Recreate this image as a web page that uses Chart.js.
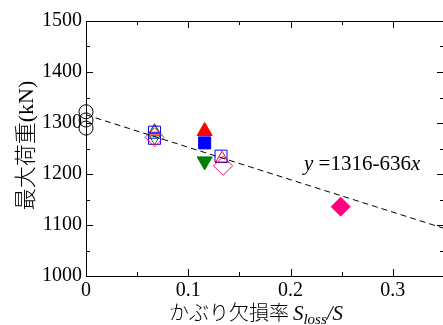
<!DOCTYPE html>
<html>
<head>
<meta charset="utf-8">
<script src="https://cdn.jsdelivr.net/npm/chart.js@4.4.0/dist/chart.umd.min.js"></script>
<style>
html,body{margin:0;padding:0;overflow:hidden;background:#fff;width:443px;height:325px;}
#wrap{width:446px;height:325px;}
</style>
</head>
<body>
<div id="wrap"><canvas id="c" width="446" height="325"></canvas></div>
<script>
// ---- data ----
const xTicks = [0, 0.1, 0.2, 0.3];
const xMinorTicks = [0.05, 0.15, 0.25, 0.35];
const yTicks = [1000, 1100, 1200, 1300, 1400, 1500];
const yMinorTicks = [1050, 1150, 1250, 1350, 1450];

const circleX = [0, 0, 0];
const circleY = [1322, 1306, 1290];

const openRedTriX = [0.067, 0.133];
const openRedTriY = [1284, 1230];
const openGreenTriX = [0.067];
const openGreenTriY = [1282];
const openBlueSqX = [0.067, 0.067, 0.132];
const openBlueSqY = [1282, 1270, 1235];
const openGreenDownX = [0.067];
const openGreenDownY = [1272];
const openPinkDiaX = [0.067, 0.134];
const openPinkDiaY = [1272, 1216];

const redTriX = [0.116];
const redTriY = [1284];
const blueSqX = [0.116];
const blueSqY = [1261];
const greenDownX = [0.116];
const greenDownY = [1225];
const pinkDiaX = [0.249];
const pinkDiaY = [1136];

const fitX = [0, 0.35];
const fitY = [1316, 1093.4];

const yTitle = '最大荷重(kN)';
const xTitleJa = 'かぶり欠損率';
const eqText = ['y', ' =1316-636', 'x'];

const RED = '#ff0000', BLUE = '#0000ff', GREEN = '#007f00', PINK = '#ff0080';

function pts(xs, ys){ return xs.map((x,i)=>({x:x, y:ys[i]})); }
function ds(xs, ys, style, color, filled, r, rot){
  return {
    type:'scatter', data: pts(xs, ys), pointStyle: style, pointRadius: r, pointHoverRadius: r,
    pointRotation: rot || 0, borderColor: color, backgroundColor: filled ? color : 'rgba(0,0,0,0)',
    pointBorderWidth: 1, borderWidth: 1, clip: false, showLine: false
  };
}

const SERIF = '"Liberation Serif", "Times New Roman", serif';
const CJK = '"Liberation Serif", "Noto Sans CJK JP", serif';

const framePlugin = {
  id: 'frame',
  afterDraw(chart){
    const ctx = chart.ctx, a = chart.chartArea;
    const xs = chart.scales.x, ys = chart.scales.y;
    ctx.save();
    ctx.strokeStyle = '#000'; ctx.lineWidth = 1;
    ctx.beginPath();
    ctx.moveTo(a.left, a.top + 0.5); ctx.lineTo(a.right, a.top + 0.5);
    ctx.moveTo(a.right - 0.5, a.top); ctx.lineTo(a.right - 0.5, a.bottom);
    const tick = (v, len, isX) => {
      if (isX){
        const p = Math.round(xs.getPixelForValue(v)) + 0.5;
        ctx.moveTo(p, a.bottom); ctx.lineTo(p, a.bottom - len);
        ctx.moveTo(p, a.top); ctx.lineTo(p, a.top + len);
      } else {
        const p = Math.round(ys.getPixelForValue(v)) + 0.5;
        ctx.moveTo(a.left, p); ctx.lineTo(a.left + len, p);
        ctx.moveTo(a.right, p); ctx.lineTo(a.right - len, p);
      }
    };
    xTicks.forEach(v => tick(v, 7, true));
    xMinorTicks.forEach(v => tick(v, 4, true));
    yTicks.forEach(v => tick(v, 7, false));
    yMinorTicks.forEach(v => tick(v, 4, false));
    ctx.stroke();

    ctx.fillStyle = '#000';
    // y title
    ctx.save();
    ctx.translate(27, (a.top + a.bottom) / 2 - 3);
    ctx.rotate(-Math.PI / 2);
    ctx.font = '300 22px ' + CJK;
    ctx.textAlign = 'center'; ctx.textBaseline = 'middle';
    ctx.fillText(yTitle, 0, 0);
    ctx.restore();

    // x title
    ctx.textBaseline = 'alphabetic'; ctx.textAlign = 'left';
    const f1 = '300 20px ' + CJK, fS = 'italic 21px ' + SERIF, fSub = 'italic 15px ' + SERIF;
    ctx.font = f1; const w1 = ctx.measureText(xTitleJa).width;
    ctx.font = fS; const wS = ctx.measureText('S').width; const wSl = ctx.measureText('/S').width;
    ctx.font = fSub; const wSub = ctx.measureText('loss').width;
    const total = w1 + 4 + wS + wSub + wSl;
    let x0 = 256 - total / 2; const base = 320;
    ctx.font = f1; ctx.fillText(xTitleJa, x0, base); x0 += w1 + 4;
    ctx.font = fS; ctx.fillText('S', x0, base); x0 += wS;
    ctx.font = fSub; ctx.fillText('loss', x0, base + 4); x0 += wSub;
    ctx.font = fS; ctx.fillText('/S', x0, base);

    // equation
    let ex = 304; const eb = 170;
    ctx.font = 'italic 21px ' + SERIF; ctx.fillText(eqText[0], ex, eb); ex += ctx.measureText(eqText[0]).width;
    ctx.font = '21px ' + SERIF; ctx.fillText(eqText[1], ex, eb); ex += ctx.measureText(eqText[1]).width;
    ctx.font = 'italic 21px ' + SERIF; ctx.fillText(eqText[2], ex, eb);
    ctx.restore();
  }
};

new Chart(document.getElementById('c'), {
  type: 'scatter',
  data: {
    datasets: [
      {
        type: 'line', data: pts(fitX, fitY), borderColor: '#000', borderWidth: 1,
        borderDash: [6, 4], pointRadius: 0, fill: false, tension: 0
      },
      ds(circleX, circleY, 'circle', '#000', false, 7),
      ds(openPinkDiaX, openPinkDiaY, 'rectRot', PINK, false, 9.5),
      ds(openGreenDownX, openGreenDownY, 'triangle', GREEN, false, 7.5, 180),
      ds(openBlueSqX, openBlueSqY, 'rect', BLUE, false, 8.5),
      ds(openGreenTriX, openGreenTriY, 'triangle', GREEN, false, 7.5),
      ds(openRedTriX, openRedTriY, 'triangle', RED, false, 7.5),
      ds(redTriX, redTriY, 'triangle', RED, true, 8.7),
      ds(blueSqX, blueSqY, 'rect', BLUE, true, 8.5),
      ds(greenDownX, greenDownY, 'triangle', GREEN, true, 8.7, 180),
      ds(pinkDiaX, pinkDiaY, 'rectRot', PINK, true, 9.5)
    ]
  },
  options: {
    responsive: false, animation: false, devicePixelRatio: 1,
    layout: { autoPadding: false, padding: { top: 21, right: 2, left: 0, bottom: 0 } },
    plugins: { legend: { display: false }, tooltip: { enabled: false } },
    scales: {
      x: {
        type: 'linear', min: 0, max: 0.35,
        afterBuildTicks(s){ s.ticks = xTicks.map(v => ({ value: v })); },
        afterFit(s){ s.height = 49; },
        grid: { display: false, drawTicks: false },
        border: { display: true, color: '#000', width: 1 },
        ticks: { color: '#000', padding: 3, maxRotation: 0, autoSkip: false,
          font: { family: SERIF, size: 20 },
          callback: v => (v === 0 ? '0' : String(Math.round(v * 10) / 10)) }
      },
      y: {
        type: 'linear', min: 1000, max: 1500,
        afterBuildTicks(s){ s.ticks = yTicks.map(v => ({ value: v })); },
        afterFit(s){ s.width = 86; },
        grid: { display: false, drawTicks: false },
        border: { display: true, color: '#000', width: 1 },
        ticks: { color: '#000', padding: 4, autoSkip: false,
          font: { family: SERIF, size: 20 },
          callback: v => String(v) }
      }
    }
  },
  plugins: [framePlugin]
});
</script>
</body>
</html>
